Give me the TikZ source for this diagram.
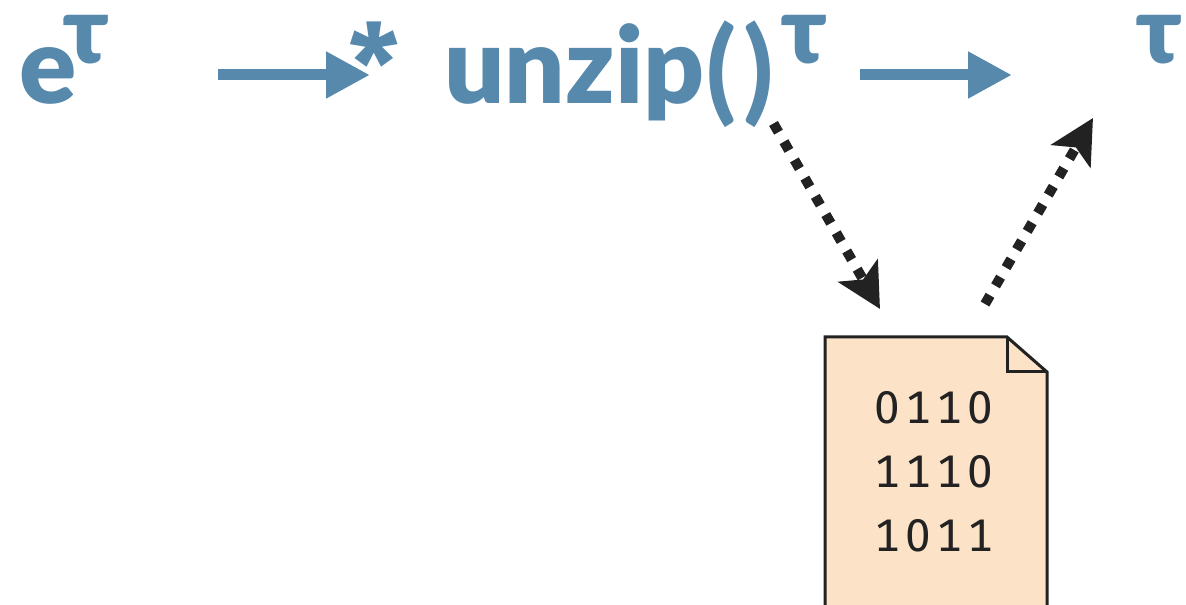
\documentclass[tikz,border=0pt]{standalone}
\usepackage{fontspec}
\setmainfont{Lato Black}
\newfontfamily\starfont{Fira Sans}
\newfontfamily\parenfont{Carlito}
\newfontfamily\bitsfont[Numbers=Monospaced,LetterSpace=12]{Fira Sans}
\definecolor{pipeblue}{RGB}{87, 137, 173}
\definecolor{inkdark}{RGB}{34, 34, 34}
\definecolor{filecream}{RGB}{252, 227, 200}
\usetikzlibrary{arrows.meta}

\begin{document}
\begin{tikzpicture}[
  cmdtext/.style={inner sep=0pt, anchor=base west, text=pipeblue, font=\fontsize{60.5}{70}\selectfont},
  tautext/.style={inner sep=0pt, anchor=base west, text=pipeblue, font=\fontsize{53}{60}\selectfont},
  pipearrow/.style={line width=0.22cm, pipeblue, -{Triangle[length=0.88cm, width=0.88cm]}},
  filearrow/.style={line width=0.2cm, inkdark, dash pattern=on 0.2cm off 0.22cm, -{Stealth[length=0.88cm, width=0.9cm, inset=0.2cm]}}
]
  \useasboundingbox (0, 0) rectangle (23.72, 12.1);

  % Command line
  \node[cmdtext] (echo) at (0.38, 10.02) {e};
  \node[tautext] (echotau) at (1.26, 10.82) {τ};
  \node[cmdtext, font=\fontsize{62.6}{70}\starfont\bfseries] (star) at (6.98, 10.02) {*};
  \node[cmdtext] (unzip) at (8.88, 10.02) {unzip\raisebox{-3.4pt}{\fontsize{68}{70}\parenfont\bfseries\kern-1pt()}};
  \node[tautext] (unziptau) at (15.62, 10.82) {τ};
  \node[tautext] (outtau) at (22.72, 10.82) {τ};

  % Arrow ends
  \coordinate (pipeAstart) at (4.36, 10.6);
  \coordinate (pipeAend) at (7.4, 10.6);
  \coordinate (pipeBstart) at (17.2, 10.6);
  \coordinate (pipeBend) at (20.24, 10.6);
  \coordinate (readstart) at (15.47, 9.63);
  \coordinate (readend) at (17.6, 5.92);
  \coordinate (writestart) at (19.7, 6.02);
  \coordinate (writeend) at (21.86, 9.74);

  % Pipes
  \draw[pipearrow] (pipeAstart) -- (pipeAend);
  \draw[pipearrow] (pipeBstart) -- (pipeBend);

  % File access
  \draw[filearrow] (readstart) -- (readend);
  \draw[filearrow] (writestart) -- (writeend);

  % File
  \draw[line width=0.06cm, inkdark, fill=filecream, line join=miter]
    (16.5, -0.1) -- (16.5, 5.36) -- (20.14, 5.36) -- (20.94, 4.66) -- (20.94, -0.1) -- cycle;
  \draw[line width=0.06cm, inkdark] (20.14, 5.36) -- (20.14, 4.66) -- (20.94, 4.66);
  \node[inner sep=0pt, align=center, text=inkdark, font=\fontsize{26}{36.4}\bitsfont] (bits) at (18.68, 2.67) {0110\\1110\\1011};
\end{tikzpicture}
\end{document}
